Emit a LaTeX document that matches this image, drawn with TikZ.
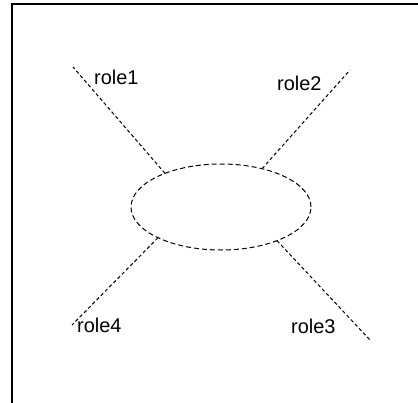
\documentclass[tikz,border=0pt]{standalone}
\usepackage{fontspec}
\setmainfont{Liberation Sans}
\usetikzlibrary{shapes.geometric}
\begin{document}
\begin{tikzpicture}[x=1bp,y=-1bp,
  frame/.style={line width=1.5bp,black},
  roleline/.style={line width=1bp,dash pattern=on 3.5bp off 2.5bp},
  hub/.style={ellipse,draw,line width=1bp,dash pattern=on 5bp off 3bp,
    minimum width=180bp,minimum height=86bp,inner sep=0pt,outer sep=0pt},
  rolelabel/.style={anchor=base west,inner sep=0pt,font=\fontsize{20}{24}\selectfont}]
\useasboundingbox (0,0) rectangle (418,403);
\draw[frame] (12,403) -- (12,4) -- (418,4);
\node[hub] (e) at (221,207) {};
\coordinate (c1) at (73,67);
\coordinate (c2) at (350,70);
\coordinate (c3) at (370,340);
\coordinate (c4) at (72,325);
\draw[roleline] (e.149) -- (c1);
\draw[roleline] (e.43) -- (c2);
\draw[roleline] (e.329.5) -- (c3);
\draw[roleline] (e.206) -- (c4);
\node[rolelabel] (l1) at (94,84) {role1};
\node[rolelabel] (l2) at (277,90) {role2};
\node[rolelabel] (l3) at (291,333) {role3};
\node[rolelabel] (l4) at (77,332) {role4};
\end{tikzpicture}
\end{document}
